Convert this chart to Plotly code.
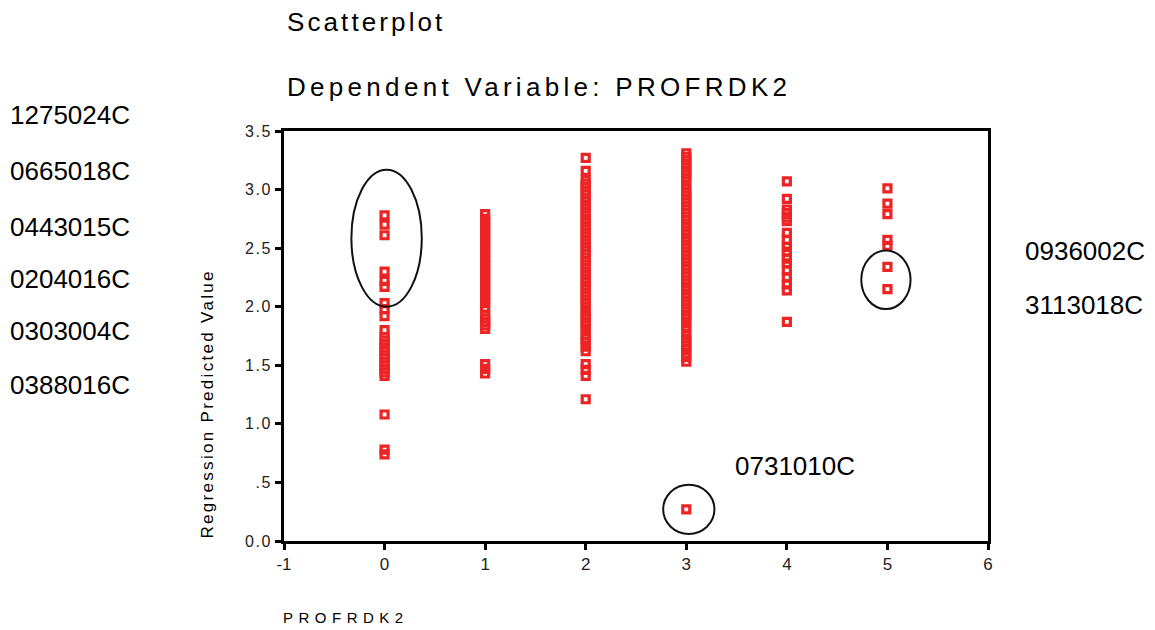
import json
import plotly.graph_objects as go

# ---------------- data ----------------
profrdk2_levels = [0, 1, 2, 3, 4, 5]
pred_0 = [2.78, 2.70, 2.61, 2.30, 2.22, 2.17, 2.03, 1.98, 1.92, 1.80, 1.74, 1.71,
          1.68, 1.65, 1.62, 1.59, 1.56, 1.53, 1.50, 1.47, 1.44, 1.41, 1.08, 0.78, 0.74]
pred_1 = [2.79, 2.75, 2.71, 2.67, 2.63, 2.59, 2.55, 2.51, 2.47, 2.43, 2.39, 2.35,
          2.31, 2.27, 2.23, 2.19, 2.15, 2.11, 2.07, 2.03, 1.99, 1.93, 1.90, 1.87,
          1.84, 1.81, 1.51, 1.47, 1.43]
pred_2 = [3.27, 3.16, 3.08, 3.05, 3.02, 2.99, 2.96, 2.93, 2.90, 2.87, 2.84, 2.81,
          2.78, 2.75, 2.72, 2.69, 2.66, 2.63, 2.60, 2.57, 2.54, 2.51, 2.48, 2.45,
          2.42, 2.39, 2.36, 2.33, 2.30, 2.27, 2.24, 2.21, 2.18, 2.15, 2.12, 2.09,
          2.06, 2.03, 2.00, 1.96, 1.93, 1.90, 1.87, 1.84, 1.80, 1.76, 1.73, 1.70,
          1.66, 1.62, 1.51, 1.46, 1.41, 1.21]
pred_3 = [3.31, 3.28, 3.25, 3.22, 3.19, 3.16, 3.13, 3.10, 3.07, 3.01, 2.98, 2.95,
          2.92, 2.89, 2.86, 2.83, 2.80, 2.77, 2.74, 2.71, 2.68, 2.65, 2.62, 2.59,
          2.56, 2.53, 2.50, 2.47, 2.44, 2.41, 2.38, 2.35, 2.32, 2.29, 2.26, 2.23,
          2.20, 2.17, 2.14, 2.11, 2.08, 2.05, 2.02, 1.99, 1.96, 1.93, 1.90, 1.86,
          1.82, 1.77, 1.73, 1.70, 1.67, 1.64, 1.60, 1.57, 1.53, 0.27]
pred_4 = [3.07, 2.92, 2.83, 2.80, 2.76, 2.73, 2.63, 2.57, 2.51, 2.47, 2.41, 2.37,
          2.31, 2.25, 2.19, 2.14, 1.87]
pred_5 = [3.01, 2.88, 2.79, 2.57, 2.52, 2.34, 2.15]

left_case_ids = ["1275024C", "0665018C", "0443015C", "0204016C", "0303004C", "0388016C"]
right_case_ids = ["0936002C", "3113018C"]
low_case_id = "0731010C"

x_tick_vals = [-1, 0, 1, 2, 3, 4, 5, 6]
x_tick_text = ["-1", "0", "1", "2", "3", "4", "5", "6"]
y_tick_vals = [0.0, 0.5, 1.0, 1.5, 2.0, 2.5, 3.0, 3.5]
y_tick_text = ["0.0", ".5", "1.0", "1.5", "2.0", "2.5", "3.0", "3.5"]

title_text = "Scatterplot"
subtitle_text = "Dependent Variable: PROFRDK2"
x_title = "PROFRDK2"
y_title = "Regression Predicted Value"

# outlier ellipses in data units: (x0, y0, x1, y1)
outlier_ellipses = [(-0.33, 2.00, 0.37, 3.17), (4.74, 1.98, 5.23, 2.48), (2.77, 0.06, 3.28, 0.48)]

# ---------------- layout geometry ----------------
W, H = 1155, 630
ML, MR, MT, MB = 284, 167, 131, 89
PW, PH = W - ML - MR, H - MT - MB


def px_x(px):
    return (px - ML) / PW


def px_y(py):
    return (H - MB - py) / PH


FONT = "Liberation Sans, Arial, sans-serif"
RED = "#ee2424"

series = [pred_0, pred_1, pred_2, pred_3, pred_4, pred_5]
xs, ys = [], []
for lvl, vals in zip(profrdk2_levels, series):
    xs += [lvl] * len(vals)
    ys += vals

fig = go.Figure()
fig.add_trace(go.Scatter(
    x=xs, y=ys, mode="markers",
    marker=dict(symbol="square-open", size=7, color=RED, line=dict(color=RED, width=3.2)),
    showlegend=False, hoverinfo="x+y", cliponaxis=False,
))

for (x0, y0, x1, y1) in outlier_ellipses:
    fig.add_shape(type="circle", xref="x", yref="y", x0=x0, y0=y0, x1=x1, y1=y1,
                  line=dict(color="#111111", width=2), layer="above")

ann = []
ann.append(dict(text=title_text, x=px_x(285), y=px_y(22), xref="paper", yref="paper",
                xanchor="left", yanchor="middle", align="left", showarrow=False,
                font=dict(family=FONT, size=26, color="black")))
ann.append(dict(text=subtitle_text, x=px_x(285), y=px_y(87), xref="paper", yref="paper",
                xanchor="left", yanchor="middle", align="left", showarrow=False,
                font=dict(family=FONT, size=26, color="black")))
ann.append(dict(text=x_title, x=px_x(281), y=px_y(617), xref="paper", yref="paper",
                xanchor="left", yanchor="middle", align="left", showarrow=False,
                font=dict(family=FONT, size=15, color="black")))
ann.append(dict(text=y_title, x=px_x(207), y=px_y(541), xref="paper", yref="paper",
                xanchor="center", yanchor="bottom", align="left", textangle=-90,
                showarrow=False, font=dict(family=FONT, size=17, color="black")))

left_y = [115, 171, 227, 279, 331, 385]
for lab, py in zip(left_case_ids, left_y):
    ann.append(dict(text=lab, x=px_x(8), y=px_y(py), xref="paper", yref="paper",
                    xanchor="left", yanchor="middle", align="left", showarrow=False,
                    font=dict(family=FONT, size=26, color="black")))
right_y = [251, 305]
for lab, py in zip(right_case_ids, right_y):
    ann.append(dict(text=lab, x=px_x(1023), y=px_y(py), xref="paper", yref="paper",
                    xanchor="left", yanchor="middle", align="left", showarrow=False,
                    font=dict(family=FONT, size=26, color="black")))
ann.append(dict(text=low_case_id, x=px_x(733), y=px_y(466), xref="paper", yref="paper",
                xanchor="left", yanchor="middle", align="left", showarrow=False,
                font=dict(family=FONT, size=26, color="black")))

fig.update_layout(
    width=W, height=H, autosize=False,
    margin=dict(l=ML, r=MR, t=MT, b=MB, pad=0),
    paper_bgcolor="white", plot_bgcolor="white",
    annotations=ann,
    xaxis=dict(range=[-1, 6], tickvals=x_tick_vals, ticktext=x_tick_text,
               showgrid=False, zeroline=False, showline=True, mirror=True,
               linecolor="black", linewidth=3, ticks="outside", ticklen=6,
               tickwidth=3, tickcolor="black",
               tickfont=dict(family=FONT, size=17, color="#222222")),
    yaxis=dict(range=[0, 3.5], tickvals=y_tick_vals, ticktext=y_tick_text,
               showgrid=False, zeroline=False, showline=True, mirror=True,
               linecolor="black", linewidth=3, ticks="outside", ticklen=6,
               tickwidth=3, tickcolor="black",
               tickfont=dict(family=FONT, size=16, color="#222222")),
)

spacing = {title_text: 3.1, subtitle_text: 4.3, x_title: 5.5, y_title: 2.3}
post = """
var SP = %s;
function applySpacing(){
  document.querySelectorAll('text.annotation-text').forEach(function(t){
    var k = t.textContent;
    if (SP[k] !== undefined) { t.style.letterSpacing = SP[k] + 'px'; }
  });
  document.querySelectorAll('.ytick text').forEach(function(t){ t.style.letterSpacing = '1.5px'; });
}
applySpacing();
setTimeout(applySpacing, 0);
setTimeout(applySpacing, 200);
var gdEl = document.getElementById('{plot_id}');
if (gdEl && gdEl.on) { gdEl.on('plotly_afterplot', applySpacing); }
""" % json.dumps(spacing)

fig.write_html("out.html", post_script=post, config={"displayModeBar": False})
